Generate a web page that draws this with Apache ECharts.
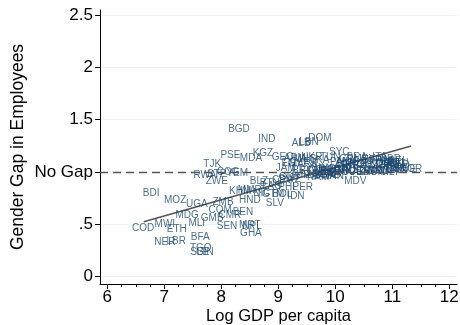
<!DOCTYPE html>
<html>
<head>
<meta charset="utf-8">
<script src="https://cdn.jsdelivr.net/npm/echarts@6/dist/echarts.min.js"></script>
<style>
    html, body { margin: 0; padding: 0; background: #fff; }
    #chart { width: 460px; height: 325px; }
</style>
</head>
<body>
<div id="chart"></div>
<script>
// country codes, log GDP per capita, gender gap
const codes = [
    'COD', 'BDI', 'MWI', 'NER', 'MOZ', 'LBR', 'ETH', 'MDG', 'UGA', 'MLI',
    'BFA', 'TGO', 'SLE', 'GIN', 'RWA', 'TJK', 'GMB', 'STP', 'ZWE', 'COM',
    'ZMB', 'SEN', 'COG', 'CMR', 'PSE', 'YEM', 'BGD', 'KHM', 'BEN', 'MMR',
    'HND', 'MRT', 'NPL', 'GHA', 'MDA', 'BLZ', 'NIC', 'KGZ', 'IND', 'LAO',
    'GTM', 'SLV', 'BTN', 'GEO', 'CPV', 'PHL', 'BOL', 'JAM', 'SWZ', 'IDN',
    'ARM', 'EGY', 'GUY', 'MAR', 'PER', 'PRY', 'SUR', 'ALB', 'LBN', 'MNG',
    'DOM', 'ECU', 'FJI', 'UKR', 'ZAF', 'NAM', 'COL', 'LKA', 'BIH', 'DZA',
    'MKD', 'BWA', 'THA', 'TUN', 'SRB', 'GAB', 'MEX', 'IRN', 'BGR', 'SYC',
    'PAN', 'TUR', 'ARG', 'ROU', 'CRI', 'MYS', 'MUS', 'CHL', 'RUS', 'MDV',
    'HRV', 'KAZ', 'BRA', 'POL', 'LTU', 'URY', 'EST', 'LVA', 'PRT', 'SVK',
    'ESP', 'HUN', 'CZE', 'GRC', 'ITA', 'KOR', 'SVN', 'FRA', 'ISR', 'CYP',
    'JPN', 'GBR', 'MLT', 'FIN', 'ISL', 'AUT', 'DNK', 'BEL', 'DEU', 'NLD',
    'IRL', 'SWE', 'NOR'
];
const logGdp = [
    6.63, 6.77, 7.01, 7.01, 7.19, 7.21, 7.22, 7.40, 7.57, 7.57,
    7.63, 7.64, 7.62, 7.71, 7.71, 7.84, 7.84, 7.92, 7.92, 7.98,
    8.03, 8.10, 8.12, 8.15, 8.16, 8.28, 8.31, 8.33, 8.38, 8.50,
    8.50, 8.50, 8.54, 8.52, 8.52, 8.66, 8.71, 8.73, 8.80, 8.89,
    8.91, 8.94, 8.85, 9.08, 9.07, 9.17, 9.07, 9.13, 9.20, 9.31,
    9.29, 9.24, 9.20, 9.38, 9.43, 9.42, 9.38, 9.40, 9.54, 9.47,
    9.73, 9.56, 9.56, 9.59, 9.64, 9.70, 9.70, 9.73, 9.73, 9.77,
    9.82, 9.82, 9.87, 9.91, 9.91, 9.91, 10.00, 10.00, 10.05, 10.07,
    10.08, 10.12, 10.17, 10.17, 10.22, 10.22, 10.22, 10.29, 10.29, 10.35,
    10.35, 10.35, 10.38, 10.43, 10.47, 10.52, 10.54, 10.57, 10.61, 10.64,
    10.64, 10.68, 10.70, 10.75, 10.78, 10.78, 10.84, 10.87, 10.87, 10.89,
    10.92, 10.96, 10.96, 10.99, 11.04, 11.06, 11.06, 11.10, 11.10, 11.13,
    11.13, 11.22, 11.33
];
const genderGap = [
    0.465, 0.80, 0.50, 0.33, 0.73, 0.34, 0.455, 0.59, 0.69, 0.51,
    0.38, 0.27, 0.23, 0.23, 0.97, 1.075, 0.56, 0.98, 0.91, 0.63,
    0.71, 0.485, 1.00, 0.59, 1.16, 0.99, 1.41, 0.82, 0.62, 0.83,
    0.73, 0.49, 0.485, 0.41, 1.13, 0.91, 0.80, 1.18, 1.315, 0.86,
    0.79, 0.70, 0.89, 1.14, 0.92, 0.85, 0.79, 1.04, 0.93, 0.77,
    1.13, 1.08, 0.95, 1.07, 0.85, 1.02, 0.97, 1.27, 1.28, 1.12,
    1.325, 1.01, 1.09, 1.14, 0.97, 0.95, 1.02, 1.11, 1.04, 0.98,
    1.03, 0.96, 1.00, 1.14, 1.01, 0.97, 1.00, 0.96, 1.02, 1.19,
    1.09, 1.02, 1.06, 1.00, 1.12, 1.02, 1.09, 1.07, 1.01, 0.91,
    1.06, 1.00, 1.14, 1.07, 1.02, 1.12, 1.00, 1.01, 1.07, 1.02,
    1.11, 1.00, 1.06, 1.01, 1.14, 1.08, 1.02, 1.10, 1.07, 1.01,
    1.06, 1.12, 1.00, 1.08, 1.02, 1.07, 1.03, 1.10, 1.08, 1.06,
    1.04, 1.03, 1.03
];

// fitted line end points
const fitX = [6.64, 11.33];
const fitY = [0.525, 1.248];

// axis ticks
const xTicks = [6, 7, 8, 9, 10, 11, 12];
const xMinorTicks = [];
for (let i = 0; i < xTicks.length - 1; i++) {
    [0.25, 0.5, 0.75].forEach(f => xMinorTicks.push(xTicks[i] + f));
}
const yTicks = [0, 0.5, 1, 1.5, 2, 2.5];
const yTickLabels = ['0', '.5', 'No Gap', '1.5', '2', '2.5'];

const FONT = 'Liberation Sans, Arial, Helvetica, sans-serif';
const LABEL_COLOR = '#1a476f';

const chart = echarts.init(document.getElementById('chart'), null, { renderer: 'canvas' });

const xMin = 5.872, xMax = 12.135;
const yMin = -0.07, yMax = 2.547;

const option = {
    animation: false,
    backgroundColor: '#fff',
    grid: { left: 100, right: 3, top: 10, bottom: 41, containLabel: false, outerBoundsMode: 'none' },
    xAxis: [
        {
            type: 'value',
            min: xMin,
            max: xMax,
            name: 'Log GDP per capita',
            nameLocation: 'middle',
            nameGap: 24,
            nameMoveOverlap: false,
            nameTextStyle: { fontFamily: FONT, fontSize: 16.5, color: '#000' },
            axisLine: { show: true, onZero: false, lineStyle: { color: '#000', width: 1 } },
            axisTick: { show: true, length: 5, customValues: xTicks, lineStyle: { color: '#000' } },
            axisLabel: {
                customValues: xTicks,
                fontFamily: FONT, fontSize: 17, color: '#000', margin: 5,
                formatter: v => String(v)
            },
            splitLine: { show: false }
        },
        {
            type: 'value',
            min: xMin,
            max: xMax,
            position: 'bottom',
            axisLine: { show: false, onZero: false },
            axisTick: { show: true, length: 3, customValues: xMinorTicks, lineStyle: { color: '#000' } },
            axisLabel: { show: false },
            splitLine: { show: false }
        }
    ],
    yAxis: {
        type: 'value',
        min: yMin,
        max: yMax,
        name: 'Gender Gap in Employees',
        nameLocation: 'middle',
        nameGap: 73,
        nameMoveOverlap: false,
        nameRotate: 90,
        nameTextStyle: { fontFamily: FONT, fontSize: 17.5, color: '#000' },
        axisLine: { show: true, onZero: false, lineStyle: { color: '#000', width: 1 } },
        axisTick: { show: true, length: 5, customValues: yTicks, lineStyle: { color: '#000' } },
        axisLabel: {
            customValues: yTicks,
            fontFamily: FONT, fontSize: 17, color: '#000', margin: 7,
            formatter: v => {
                const i = yTicks.findIndex(t => Math.abs(t - v) < 1e-6);
                return i >= 0 ? yTickLabels[i] : '';
            }
        },
        splitLine: { show: true, lineStyle: { color: '#eaf2f3', width: 1 } }
    },
    series: [
        {
            type: 'line',
            data: fitX.map((x, i) => [x, fitY[i]]),
            symbol: 'none',
            lineStyle: { color: '#555', width: 1.5 },
            silent: true,
            z: 3,
            markLine: {
                silent: true,
                symbol: 'none',
                label: { show: false },
                lineStyle: { color: '#555', width: 1.3, type: [8, 5] },
                data: [{ yAxis: 1 }]
            }
        },
        {
            type: 'scatter',
            data: codes.map((c, i) => [logGdp[i], genderGap[i], c]),
            symbol: 'circle',
            symbolSize: 1,
            itemStyle: { color: 'rgba(0,0,0,0)' },
            z: 4,
            label: {
                show: true,
                position: 'inside',
                formatter: p => p.data[2],
                fontFamily: FONT,
                fontSize: 10,
                color: LABEL_COLOR
            },
            labelLayout: { hideOverlap: false }
        }
    ]
};

chart.setOption(option);
</script>
</body>
</html>
